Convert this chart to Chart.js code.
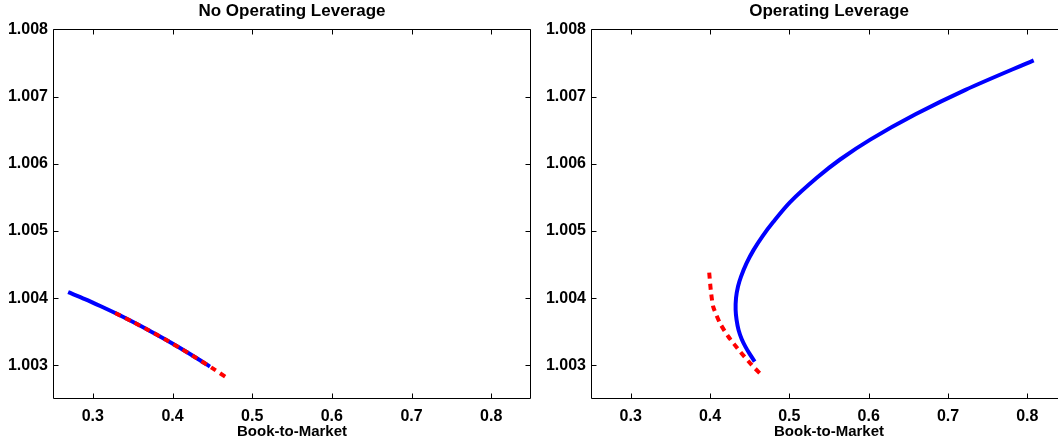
<!DOCTYPE html>
<html>
<head>
<meta charset="utf-8">
<script src="https://cdn.jsdelivr.net/npm/chart.js@4.4.1/dist/chart.umd.min.js"></script>
<style>
  html, body { margin:0; padding:0; background:#fff; overflow:hidden; width:1058px; height:441px; }
  .wrap { position:absolute; top:0; width:540px; height:441px; }
  #w1 { left:0; }
  #w2 { left:540px; }
</style>
</head>
<body>
<div class="wrap" id="w1"><canvas id="c1" width="540" height="441"></canvas></div>
<div class="wrap" id="w2"><canvas id="c2" width="540" height="441"></canvas></div>
<script>
// ---- Data ----
const titles = ["No Operating Leverage", "Operating Leverage"];
const xAxisLabel = "Book-to-Market";
const xTickValues = [0.3, 0.4, 0.5, 0.6, 0.7, 0.8];
const yTickValues = [1.003, 1.004, 1.005, 1.006, 1.007, 1.008];

// Left panel: No Operating Leverage
const leftBlueX = [0.269, 0.29, 0.31, 0.33, 0.35, 0.37, 0.39, 0.41, 0.43, 0.447];
const leftBlueY = [1.00409, 1.003987, 1.00388, 1.003768, 1.003649, 1.003524, 1.003392, 1.003254, 1.00311, 1.002982];
const leftRedX  = [0.328, 0.35, 0.37, 0.39, 0.41, 0.43, 0.45, 0.467];
const leftRedY  = [1.00378, 1.003649, 1.003524, 1.003392, 1.003254, 1.00311, 1.002959, 1.002826];

// Right panel: Operating Leverage
const rightBlueX = [0.808, 0.722, 0.659, 0.602, 0.564, 0.535, 0.501, 0.4794, 0.4663, 0.455, 0.4461, 0.4391, 0.4353, 0.4328, 0.4323, 0.4335, 0.436, 0.4399, 0.4446, 0.45, 0.4563];
const rightBlueY = [1.00754, 1.007101, 1.006736, 1.00636, 1.006064, 1.005795, 1.00543, 1.00513, 1.004925, 1.004719, 1.004521, 1.004321, 1.004173, 1.004004, 1.003826, 1.003677, 1.003528, 1.003394, 1.00328, 1.003171, 1.003057];
const rightRedX  = [0.399, 0.401, 0.404, 0.4125, 0.423, 0.438, 0.4525, 0.465];
const rightRedY  = [1.00438, 1.00412, 1.003875, 1.00363, 1.00343, 1.003205, 1.003007, 1.002857];

// ---- Helpers ----
const FONT = "'Liberation Sans', Helvetica, Arial, sans-serif";
const pts = (xs, ys) => xs.map((x, i) => ({ x: x, y: ys[i] }));

const framePlugin = {
  id: 'frame',
  afterDatasetsDraw(chart) {
    const { ctx, chartArea: a, scales } = chart;
    const L = Math.round(a.left) + 0.5, R = Math.round(a.right) - 0.5;
    const T = Math.round(a.top) + 0.5, B = Math.round(a.bottom) - 0.5;
    ctx.save();
    ctx.strokeStyle = '#000';
    ctx.lineWidth = 1;
    ctx.beginPath();
    ctx.rect(L, T, R - L, B - T);
    const tl = 5;
    scales.x.ticks.forEach(t => {
      const px = Math.round(scales.x.getPixelForValue(t.value)) + 0.5;
      ctx.moveTo(px, B); ctx.lineTo(px, B - tl);
      ctx.moveTo(px, T); ctx.lineTo(px, T + tl);
    });
    scales.y.ticks.forEach(t => {
      const py = Math.round(scales.y.getPixelForValue(t.value)) + 0.5;
      ctx.moveTo(L, py); ctx.lineTo(L + tl, py);
      ctx.moveTo(R, py); ctx.lineTo(R - tl, py);
    });
    ctx.stroke();
    ctx.restore();
  }
};

function makeChart(canvasId, title, blue, red, yWidth, padRight) {
  return new Chart(document.getElementById(canvasId), {
    type: 'scatter',
    data: {
      datasets: [
        { data: red, showLine: true, borderColor: '#ff0000', borderWidth: 4, borderDash: [6, 5],
          borderCapStyle: 'butt', pointRadius: 0, tension: 0.2, fill: false, order: 0 },
        { data: blue, showLine: true, borderColor: '#0000ff', borderWidth: 4, borderJoinStyle: 'round',
          pointRadius: 0, tension: 0.3, fill: false, order: 1 }
      ]
    },
    options: {
      responsive: false,
      animation: false,
      layout: { padding: { left: 0, right: padRight, top: 0, bottom: 0 } },
      plugins: {
        legend: { display: false },
        tooltip: { enabled: false },
        title: {
          display: true, text: title, color: '#000', fullSize: false,
          font: { family: FONT, size: 17, weight: 'bold' },
          padding: { top: 1, bottom: 8 }
        }
      },
      scales: {
        x: {
          type: 'linear', min: 0.25, max: 0.85,
          afterBuildTicks: s => { s.ticks = xTickValues.map(v => ({ value: v })); },
          afterFit: s => { s.height = 42; },
          grid: { display: true, drawOnChartArea: false, drawTicks: false },
          border: { display: false },
          ticks: { color: '#000', padding: 8, maxRotation: 0, autoSkip: false,
                   font: { family: FONT, size: 16, weight: 'bold' },
                   callback: v => v.toFixed(1) },
          title: { display: true, text: xAxisLabel, color: '#000', padding: 0,
                   font: { family: FONT, size: 15, weight: 'bold' } }
        },
        y: {
          type: 'linear', min: 1.0025, max: 1.008,
          afterBuildTicks: s => { s.ticks = yTickValues.map(v => ({ value: v })); },
          afterFit: s => { s.width = yWidth; },
          grid: { display: true, drawOnChartArea: false, drawTicks: false },
          border: { display: false },
          ticks: { color: '#000', padding: 5, autoSkip: false,
                   font: { family: FONT, size: 16, weight: 'bold' },
                   callback: v => v.toFixed(3) }
        }
      }
    },
    plugins: [framePlugin]
  });
}

makeChart('c1', titles[0], pts(leftBlueX, leftBlueY), pts(leftRedX, leftRedY), 53, 9);
makeChart('c2', titles[1], pts(rightBlueX, rightBlueY), pts(rightRedX, rightRedY), 51, 13);
</script>
</body>
</html>
